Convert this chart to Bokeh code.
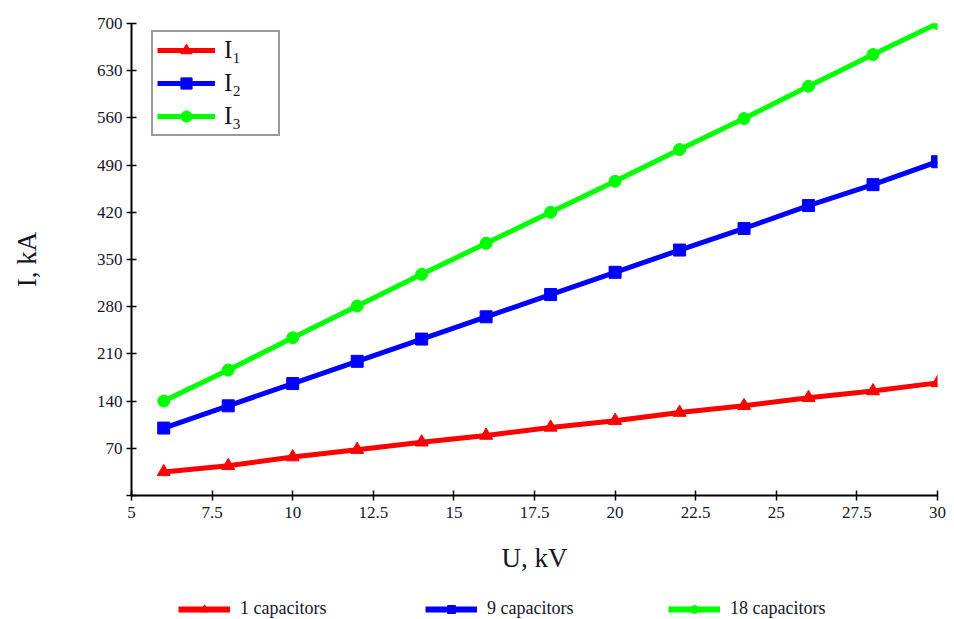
from bokeh.plotting import figure
from bokeh.layouts import column
from bokeh.models import Legend, LegendItem, FixedTicker, ColumnDataSource
from bokeh.embed import file_html
from bokeh.resources import INLINE

U = [6, 8, 10, 12, 14, 16, 18, 20, 22, 24, 26, 28, 30]
I1 = [35, 44, 57, 68, 79, 89, 101, 111, 123, 133, 145, 155, 167]
I2 = [100, 133, 166, 199, 232, 265, 298, 331, 364, 396, 430, 461, 495]
I3 = [140, 186, 234, 281, 328, 374, 420, 466, 513, 559, 607, 654, 700]

x_ticks = [5, 7.5, 10, 12.5, 15, 17.5, 20, 22.5, 25, 27.5, 30]
x_tick_labels = ["5", "7.5", "10", "12.5", "15", "17.5", "20", "22.5", "25", "27.5", "30"]
y_ticks = [0, 70, 140, 210, 280, 350, 420, 490, 560, 630, 700]
y_tick_labels = ["", "70", "140", "210", "280", "350", "420", "490", "560", "630", "700"]

short_names = ["I\u2081", "I\u2082", "I\u2083"]
long_names = ["1 capacitors", "9 capacitors", "18 capacitors"]
colors = ["#ff0000", "#0000ff", "#00ff00"]
markers = ["triangle", "square", "circle"]
marker_sizes = [13, 12, 12]

FONT = "Liberation Serif"
TXT = "#15152a"

p = figure(width=954, height=580, output_backend="svg", toolbar_location=None,
           x_range=(5, 30), y_range=(0, 700),
           min_border_left=131, min_border_right=17, min_border_top=23, min_border_bottom=85)
p.outline_line_color = None
p.xgrid.visible = False
p.ygrid.visible = False

src = ColumnDataSource(dict(u=U, i1=I1, i2=I2, i3=I3))
renderers = []
for col, c, m, ms in zip(["i1", "i2", "i3"], colors, markers, marker_sizes):
    l = p.line("u", col, source=src, line_color=c, line_width=5)
    s = p.scatter("u", col, source=src, marker=m, size=ms, fill_color=c, line_color=c)
    renderers.append([l, s])

for ax in (p.xaxis[0], p.yaxis[0]):
    ax.axis_line_width = 2
    ax.major_tick_line_width = 1.5
    ax.major_tick_in = 5
    ax.major_tick_out = 5
    ax.minor_tick_line_color = None
    ax.major_label_text_font = FONT
    ax.major_label_text_font_size = "17px"
    ax.major_label_text_color = TXT
    ax.axis_label_text_font = FONT
    ax.axis_label_text_font_size = "27px"
    ax.axis_label_text_font_style = "normal"
    ax.axis_label_text_color = TXT

p.xaxis.ticker = FixedTicker(ticks=x_ticks)
p.xaxis.major_label_overrides = {t: s for t, s in zip(x_ticks, x_tick_labels)}
p.yaxis.ticker = FixedTicker(ticks=y_ticks)
p.yaxis.major_label_overrides = {t: s for t, s in zip(y_ticks, y_tick_labels)}
p.xaxis.axis_label = "U, kV"
p.yaxis.axis_label = "I, kA"
p.xaxis.axis_label_standoff = 22
p.yaxis.axis_label_standoff = 52
p.xaxis.major_label_standoff = 6
p.yaxis.major_label_standoff = 4

leg1 = Legend(items=[LegendItem(label=n, renderers=r) for n, r in zip(short_names, renderers)],
              location=(20, 359), orientation="vertical")
leg1.label_text_font = FONT
leg1.label_text_font_size = "25px"
leg1.label_text_color = TXT
leg1.border_line_color = "#333333"
leg1.border_line_width = 2
leg1.glyph_width = 58
leg1.glyph_height = 28
leg1.label_height = 28
leg1.label_width = 50
leg1.spacing = 5
leg1.padding = 4
leg1.label_standoff = 9
leg1.background_fill_alpha = 1
p.add_layout(leg1)

# bottom legend strip (its frame is aligned with the main plot's frame by the column layout)
q = figure(width=954, height=39, output_backend="svg", toolbar_location=None,
           x_range=(0, 1), y_range=(0, 1), x_axis_type=None, y_axis_type=None,
           min_border_left=131, min_border_right=17, min_border_top=0, min_border_bottom=0)
q.outline_line_color = None
q.xgrid.visible = False
q.ygrid.visible = False

legend_x = [47, 294, 537]
for name, col, c, m, ms, lx in zip(long_names, ["i1", "i2", "i3"], colors, markers, marker_sizes, legend_x):
    l = q.line("u", col, source=src, line_color=c, line_width=6)
    s = q.scatter("u", col, source=src, marker=m, size=ms, fill_color=c, line_color=c)
    lg = Legend(items=[LegendItem(label=name, renderers=[l, s])], location=(lx, 0),
                orientation="horizontal")
    lg.label_text_font = FONT
    lg.label_text_font_size = "18px"
    lg.label_text_color = TXT
    lg.border_line_color = None
    lg.background_fill_alpha = 0
    lg.glyph_width = 52
    lg.glyph_height = 20
    lg.padding = 2
    lg.margin = 0
    lg.label_standoff = 10
    q.add_layout(lg)

open("out.html", "w").write(file_html(column(p, q, spacing=0), INLINE))
